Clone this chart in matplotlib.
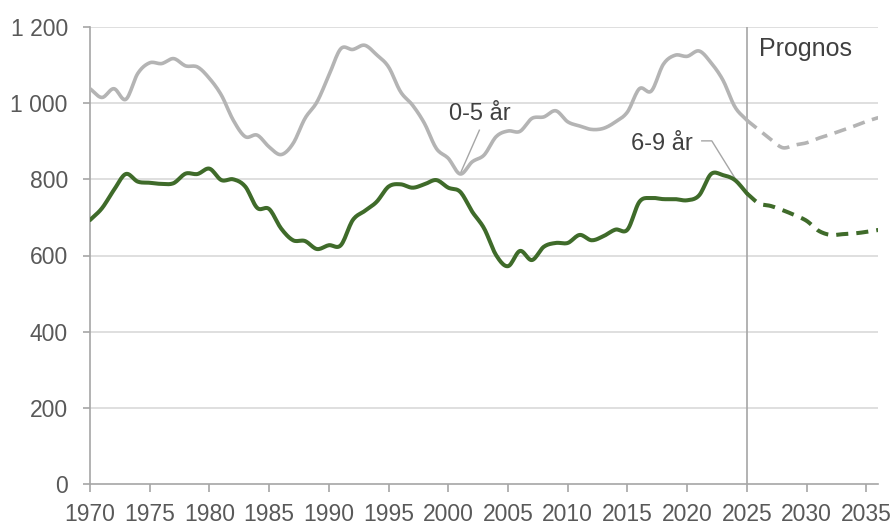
import numpy as np
import matplotlib
matplotlib.use("Agg")
import matplotlib.pyplot as plt

plt.rcParams['font.family'] = ['Liberation Sans', 'DejaVu Sans']

# ---- data ----
years_hist = list(range(1970, 2026))
age_0_5 = [1038, 1015, 1038, 1010, 1078, 1106, 1104, 1117, 1098, 1095,
           1065, 1021, 955, 912, 916, 885, 865, 894, 960, 1003,
           1073, 1143, 1141, 1152, 1127, 1095, 1030, 995, 947, 881,
           855, 814, 846, 864, 912, 927, 926, 960, 964, 980,
           951, 940, 931, 934, 951, 977, 1038, 1032, 1102, 1126,
           1123, 1137, 1106, 1060, 990, 955]
age_6_9 = [693, 724, 772, 814, 794, 791, 788, 790, 815, 814,
           828, 798, 800, 781, 725, 722, 671, 640, 638, 617,
           627, 627, 693, 717, 741, 781, 787, 778, 787, 798,
           778, 767, 715, 671, 601, 572, 612, 588, 623, 633,
           633, 654, 640, 651, 668, 668, 741, 751, 748, 748,
           745, 758, 814, 811, 798, 763]

years_prog = list(range(2025, 2037))
prog_0_5 = [955, 930, 905, 883, 890, 896, 908, 918, 929, 940, 952, 962]
prog_6_9 = [763, 737, 730, 719, 706, 691, 665, 654, 656, 658, 662, 667]

x_ticks = list(range(1970, 2036, 5))
y_ticks = [0, 200, 400, 600, 800, 1000, 1200]
y_tick_labels = ['0', '200', '400', '600', '800', '1 000', '1 200']

GRAY = '#b4b4b4'
GREEN = '#3f6b2a'
AXIS = '#a6a6a6'
TXT = '#595959'


def smooth(x, y, n=12):
    """Catmull-Rom style smoothing for display (like Excel smoothed lines)."""
    x = np.asarray(x, float)
    y = np.asarray(y, float)
    P = np.column_stack([x, y])
    P = np.vstack([2 * P[0] - P[1], P, 2 * P[-1] - P[-2]])
    out = []
    t = np.linspace(0, 1, n, endpoint=False)[:, None]
    for i in range(1, len(P) - 2):
        p0, p1, p2, p3 = P[i - 1], P[i], P[i + 1], P[i + 2]
        c1 = p1 + (p2 - p0) / 6.0
        c2 = p2 - (p3 - p1) / 6.0
        seg = ((1 - t) ** 3) * p1 + 3 * ((1 - t) ** 2) * t * c1 + 3 * (1 - t) * t ** 2 * c2 + t ** 3 * p2
        out.append(seg)
    out.append(P[-2][None, :])
    out = np.vstack(out)
    return out[:, 0], out[:, 1]


fig = plt.figure(figsize=(8.95, 5.25), dpi=100)
ax = fig.add_axes([90 / 895, 41 / 525, (878.3 - 90) / 895, (484 - 27) / 525])

ax.set_xlim(1970, 2036)
ax.set_ylim(0, 1200)

# grid
for v in y_ticks[1:]:
    ax.axhline(v, color='#d9d9d9', lw=1.2, zorder=0)

# prognosis divider
ax.plot([2025, 2025], [0, 1200], color=AXIS, lw=1.2, zorder=1, solid_capstyle='butt')

sx, sy = smooth(years_hist, age_0_5)
ax.plot(sx, sy, color=GRAY, lw=2.6, zorder=3, solid_capstyle='round')
sx, sy = smooth(years_prog, prog_0_5)
ax.plot(sx, sy, color=GRAY, lw=2.6, zorder=3, linestyle=(0, (3.4, 2.1)))

sx, sy = smooth(years_hist, age_6_9)
ax.plot(sx, sy, color=GREEN, lw=2.9, zorder=4, solid_capstyle='round')
sx, sy = smooth(years_prog, prog_6_9)
ax.plot(sx, sy, color=GREEN, lw=2.9, zorder=4, linestyle=(0, (3.0, 2.0)))

# annotations
ax.text(2000.07, 955, '0-5 år', fontsize=17, color='#404040', ha='left', va='baseline')
ax.plot([2002.6, 2001.0], [929, 815], color=AXIS, lw=1.0, zorder=2)

ax.text(2020.47, 877, '6-9 år', fontsize=17, color='#404040', ha='right', va='baseline')
ax.plot([2021.22, 2022.06, 2024.1], [901, 901, 798], color=AXIS, lw=1.0, zorder=2)

ax.text(2026.03, 1124, 'Prognos', fontsize=18, color='#404040', ha='left', va='baseline')

# axes styling
for s in ['top', 'right']:
    ax.spines[s].set_visible(False)
for s in ['left', 'bottom']:
    ax.spines[s].set_color(AXIS)
    ax.spines[s].set_linewidth(1.2)

ax.set_xticks(x_ticks)
ax.set_xticklabels([str(v) for v in x_ticks])
ax.set_yticks(y_ticks)
ax.set_yticklabels(y_tick_labels)
ax.tick_params(axis='x', length=6, width=1.2, color=AXIS, labelsize=16.5, labelcolor=TXT, pad=8)
ax.tick_params(axis='y', length=5, width=1.2, color=AXIS, labelsize=16.5, labelcolor=TXT, pad=11)

fig.savefig('out.png', dpi=100)
